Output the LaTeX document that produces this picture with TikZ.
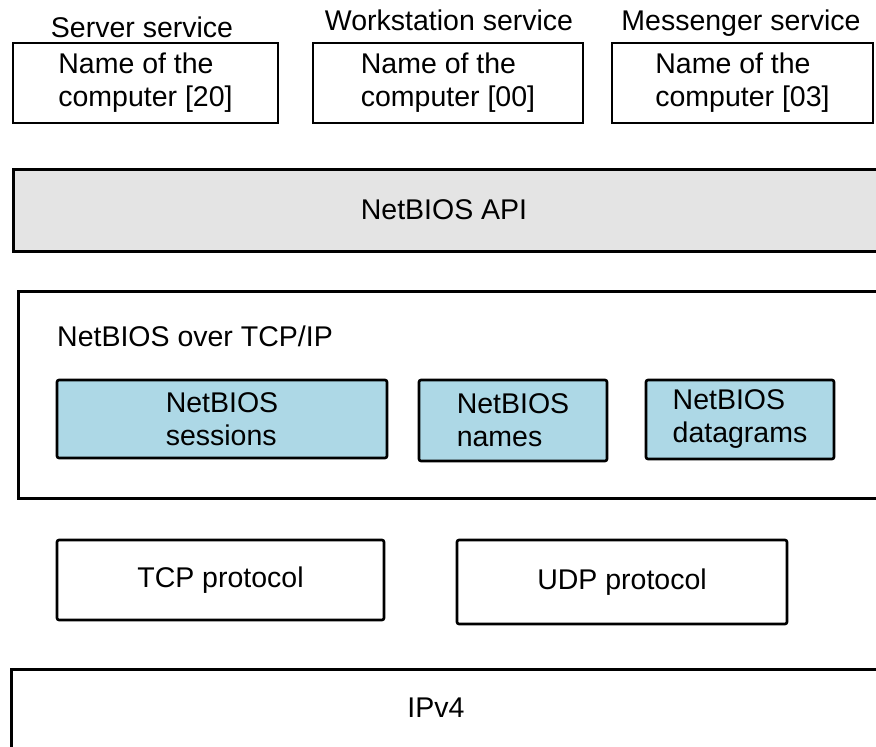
\documentclass[tikz,border=0pt]{standalone}
\usepackage{fontspec}
\setmainfont{Liberation Sans}
\definecolor{apigray}{RGB}{228,228,228}
\definecolor{subblue}{RGB}{173,216,230}
\begin{document}
\begin{tikzpicture}[x=1pt,y=-1pt,
  every node/.style={font=\fontsize{28.5}{33}\selectfont, inner sep=0pt},
  box/.style={draw=black, line width=2.6pt, fill=white, align=left},
  subbox/.style={box, fill=subblue, rounded corners=2pt},
  bigbox/.style={draw=black, line width=2.6pt, anchor=north west},
  lbl/.style={anchor=base}]
\useasboundingbox (0,0) rectangle (876,747);
\clip (0,0) rectangle (876,747);
% top service boxes
\node[lbl] (srvl) at (142,37) {Server service};
\node[lbl] (wksl) at (449,30) {Workstation service};
\node[lbl] (msgl) at (741,30) {Messenger service};
\node[box, minimum width=265pt, minimum height=80pt] (srv) at (145.5,83) {Name of the\\computer [20]};
\node[box, minimum width=270pt, minimum height=80pt] (wks) at (448,83) {Name of the\\computer [00]};
\node[box, minimum width=261pt, minimum height=80pt] (msg) at (742.5,83) {Name of the\\computer [03]};
% NetBIOS API
\node[bigbox, fill=apigray, minimum width=900pt, minimum height=82pt] (api) at (12,168) {};
\node (apil) at (444,210) {NetBIOS API};
% NetBIOS over TCP/IP
\node[bigbox, fill=white, minimum width=900pt, minimum height=207pt] (nbt) at (17,290) {};
\node[anchor=base west] (nbtl) at (57,346) {NetBIOS over TCP/IP};
\node[subbox, minimum width=330pt, minimum height=78pt] (ses) at (222,419) {NetBIOS\\sessions};
\node[subbox, minimum width=188pt, minimum height=81pt] (nam) at (513,420.5) {NetBIOS\\names};
\node[subbox, minimum width=188pt, minimum height=79pt] (dgr) at (740,419.5) {NetBIOS\\datagrams};
% transport
\node[box, rounded corners=2pt, minimum width=327pt, minimum height=80pt] (tcp) at (220.5,580) {TCP protocol};
\node[box, rounded corners=2pt, minimum width=330pt, minimum height=84pt] (udp) at (622,582) {UDP protocol};
% IPv4
\node[bigbox, fill=white, minimum width=900pt, minimum height=120pt] (ip) at (10,668) {};
\node (ipl) at (436,708) {IPv4};
\end{tikzpicture}
\end{document}
